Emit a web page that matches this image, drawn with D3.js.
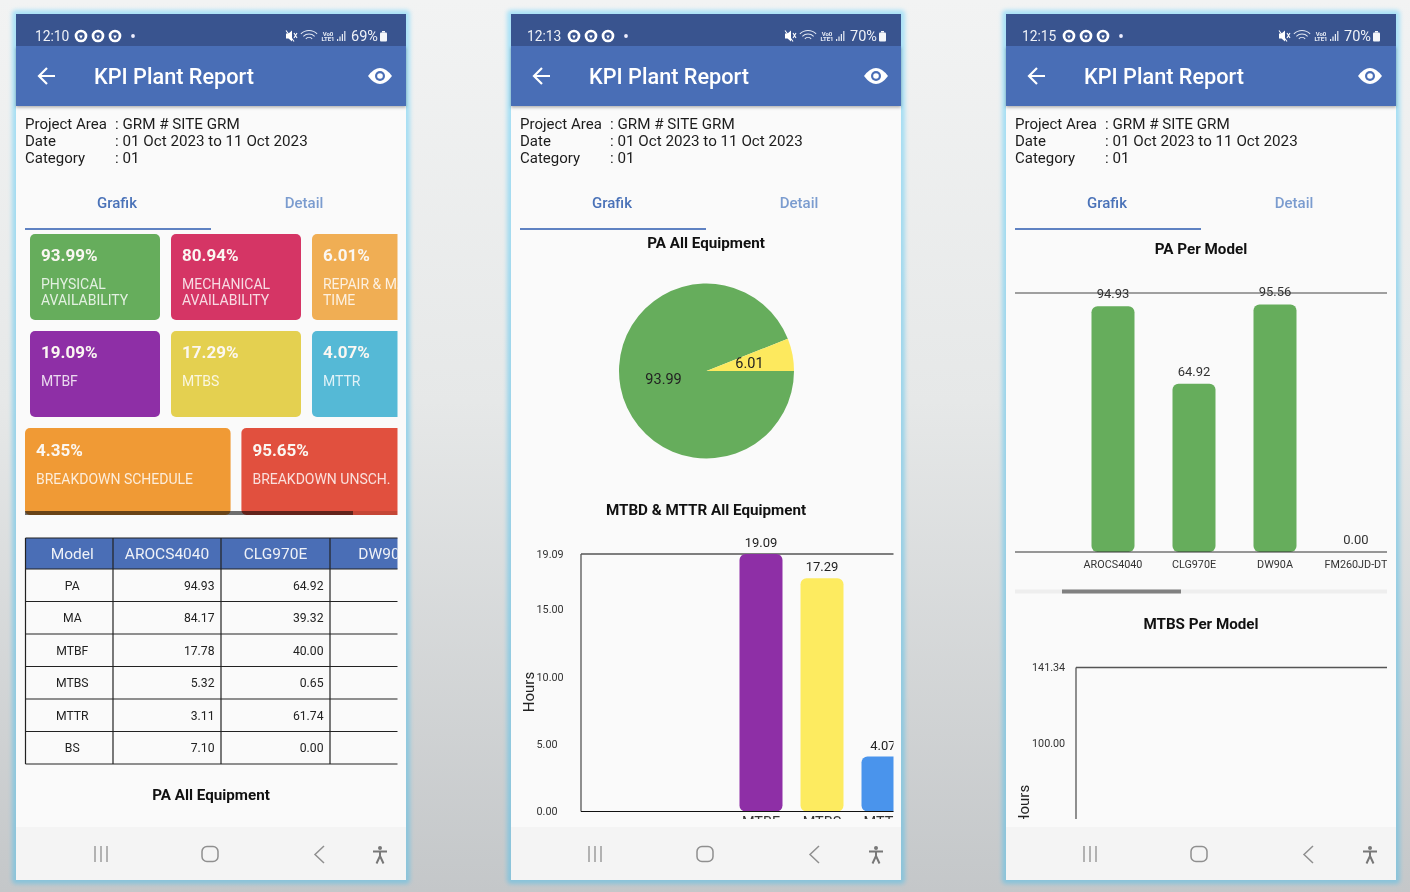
<!DOCTYPE html>
<html>
<head>
<meta charset="utf-8">
<title>KPI Plant Report</title>
<script src="https://cdn.jsdelivr.net/npm/d3@7"></script>
<style>
    html, body { margin: 0; padding: 0; background: #dcdfe0; overflow: hidden; }
    svg { display: block; font-family: Roboto, sans-serif; filter: blur(0.3px); }
</style>
</head>
<body>
<svg id="page" width="1410" height="892"></svg>
<script>
/* ------------------------------
   DATA
------------------------------ */
const statusTimes = ["12:10", "12:13", "12:15"];
const batteryLabels = ["69%", "70%", "70%"];
const infoLabels = ["Project Area", "Date", "Category"];
const infoValues = [": GRM # SITE GRM", ": 01 Oct 2023 to 11 Oct 2023", ": 01"];
const tabLabels = ["Grafik", "Detail"];

const kpiValues = ["93.99%", "80.94%", "6.01%", "19.09%", "17.29%", "4.07%"];
const kpiLabels = [["PHYSICAL", "AVAILABILITY"], ["MECHANICAL", "AVAILABILITY"], ["REPAIR & MAINTENANCE", "TIME"], ["MTBF"], ["MTBS"], ["MTTR"]];
const kpiColors = ["#66ad5c", "#d53565", "#f0ae54", "#8e2fa6", "#e4d050", "#55b9d6"];
const breakdownValues = ["4.35%", "95.65%"];
const breakdownLabels = ["BREAKDOWN SCHEDULE", "BREAKDOWN UNSCH."];
const breakdownColors = ["#f09a35", "#e1503e"];

const tableHeader = ["Model", "AROCS4040", "CLG970E", "DW90A"];
const tableRows = ["PA", "MA", "MTBF", "MTBS", "MTTR", "BS"];
const tableArocs = ["94.93", "84.17", "17.78", "5.32", "3.11", "7.10"];
const tableClg = ["64.92", "39.32", "40.00", "0.65", "61.74", "0.00"];

const pieLabels = ["PA", "Repair"];
const pieValues = [93.99, 6.01];
const pieColors = ["#66ad5c", "#fde95e"];

const hourCategories = ["MTBF", "MTBS", "MTTR"];
const hourValues = [19.09, 17.29, 4.07];
const hourColors = ["#8e2fa6", "#fdeb60", "#4a94ec"];
const hourTicks = [0, 5, 10, 15, 19.09];

const modelCategories = ["AROCS4040", "CLG970E", "DW90A", "FM260JD-DT"];
const paPerModel = [94.93, 64.92, 95.56, 0];

const mtbsTicks = [100, 141.34];

const svg = d3.select("#page");
const defs = svg.append("defs");

const phoneLefts = [16, 511, 1006];
const phoneWidth = 390;

/* ------------------------------
   BACKGROUND
------------------------------ */
const bgGrad = defs.append("linearGradient").attr("id", "bg-grad")
    .attr("x1", 0).attr("y1", 0).attr("x2", 0).attr("y2", 1);
bgGrad.append("stop").attr("offset", "0%").attr("stop-color", "#f2f3f3");
bgGrad.append("stop").attr("offset", "45%").attr("stop-color", "#e6e8e8");
bgGrad.append("stop").attr("offset", "100%").attr("stop-color", "#c4c7c9");

const glowGrad = defs.append("linearGradient").attr("id", "glow-grad")
    .attr("x1", 0).attr("y1", 0).attr("x2", 0).attr("y2", 1);
glowGrad.append("stop").attr("offset", "0%").attr("stop-color", "#aae2f7");
glowGrad.append("stop").attr("offset", "100%").attr("stop-color", "#88c3da");

const blur = defs.append("filter").attr("id", "glow-blur")
    .attr("x", "-5%").attr("y", "-5%").attr("width", "110%").attr("height", "110%");
blur.append("feGaussianBlur").attr("stdDeviation", 2);

const shadow = defs.append("filter").attr("id", "bar-shadow")
    .attr("x", "-5%").attr("y", "-20%").attr("width", "110%").attr("height", "150%");
shadow.append("feDropShadow").attr("dx", 0).attr("dy", 1.5).attr("stdDeviation", 1.5)
    .attr("flood-color", "#000").attr("flood-opacity", 0.3);

svg.append("rect").attr("width", 1410).attr("height", 892).attr("fill", "url(#bg-grad)");

function addClip(id, x, y, w, h) {
    defs.append("clipPath").attr("id", id)
        .append("rect").attr("x", x).attr("y", y).attr("width", w).attr("height", h);
    return "url(#" + id + ")";
}

function title(g, text, cx, y) {
    g.append("text").attr("x", cx).attr("y", y).attr("text-anchor", "middle")
        .attr("font-size", 15.2).attr("font-weight", 700).attr("fill", "#111").text(text);
}

/* ------------------------------
   PHONE FRAME
------------------------------ */
function drawStatusIcons(g, i) {
    const ringX = [[65, 82, 99], [63, 80, 97], [63, 80, 97]][i];
    const dotX = [117, 115, 115][i];
    const right = [275, 279, 278][i];   // mute icon

    ringX.forEach(x => {
        g.append("circle").attr("cx", x).attr("cy", 36).attr("r", 5)
            .attr("fill", "none").attr("stroke", "#fff").attr("stroke-width", 2.7);
        g.append("path").attr("d", `M${x - 1.8} 35.5h3.6l-1.8 3.2z`).attr("fill", "#fff");
    });
    g.append("circle").attr("cx", dotX).attr("cy", 36).attr("r", 1.9).attr("fill", "#eef");

    // mute
    g.append("path").attr("d", `M${right - 5} 33.5h2.5l3.5-3v11l-3.5-3h-2.5z`).attr("fill", "#fff");
    g.append("path").attr("d", `M${right - 5} 30.5l8 11M${right + 3} 33l3 5M${right + 6} 33l-3 5`)
        .attr("fill", "none").attr("stroke", "#fff").attr("stroke-width", 1.1);
    // wifi fan
    const fan = d3.arc().startAngle(-Math.PI / 4).endAngle(Math.PI / 4);
    [[11, 12], [7.5, 8.5], [4, 5]].forEach(r => {
        g.append("path").attr("transform", `translate(${right + 18},42)`)
            .attr("d", fan.innerRadius(r[0]).outerRadius(r[1])()).attr("fill", "#e3e9f4");
    });
    // volte
    g.append("text").attr("x", right + 37).attr("y", 35.5).attr("text-anchor", "middle")
        .attr("font-size", 6).attr("font-weight", 700).attr("fill", "#e8edf6").text("Vo0");
    g.append("text").attr("x", right + 37).attr("y", 41).attr("text-anchor", "middle")
        .attr("font-size", 6).attr("font-weight", 700).attr("fill", "#e8edf6").text("LTE1");
    // signal
    [2, 4.5, 7, 10].forEach((h, k) => {
        g.append("rect").attr("x", right + 46 + k * 2.4).attr("y", 41 - h)
            .attr("width", 1.2).attr("height", h).attr("fill", "#e8edf6");
    });
    g.append("text").attr("x", right + 60).attr("y", 41).attr("font-size", 14.5)
        .attr("fill", "#eef1f7").text(batteryLabels[i]);
    // battery
    g.append("rect").attr("x", right + 89).attr("y", 32.5).attr("width", 7).attr("height", 9)
        .attr("rx", 1).attr("fill", "#f4f6fa");
    g.append("rect").attr("x", right + 91).attr("y", 31).attr("width", 3).attr("height", 1.5).attr("fill", "#f4f6fa");
}

function drawNav(g, i) {
    const cx = [[85, 194, 304, 364], [84, 194, 304, 365], [84, 193, 303, 364]][i];
    g.append("rect").attr("x", 0).attr("y", 827).attr("width", phoneWidth).attr("height", 53).attr("fill", "#f4f4f4");

    [-6, 0, 6].forEach(d => {
        g.append("line").attr("x1", cx[0] + d).attr("x2", cx[0] + d).attr("y1", 846).attr("y2", 862)
            .attr("stroke", "#8f8f8f").attr("stroke-width", 1.3);
    });
    g.append("rect").attr("x", cx[1] - 8).attr("y", 846.5).attr("width", 16).attr("height", 15).attr("rx", 5)
        .attr("fill", "none").attr("stroke", "#8f8f8f").attr("stroke-width", 1.5);
    g.append("path").attr("d", `M${cx[2] + 4} 846l-9 8.5l9 8.5`)
        .attr("fill", "none").attr("stroke", "#8f8f8f").attr("stroke-width", 1.5);
    g.append("circle").attr("cx", cx[3]).attr("cy", 848).attr("r", 2).attr("fill", "#777");
    g.append("path").attr("d", `M${cx[3] - 7} 851.5h14M${cx[3]} 851.5v4.5M${cx[3]} 856l-3.5 7.5M${cx[3]} 856l3.5 7.5`)
        .attr("fill", "none").attr("stroke", "#777").attr("stroke-width", 2);
}

function drawPhone(i) {
    const g = svg.append("g").attr("transform", `translate(${phoneLefts[i]},0)`);

    g.append("rect").attr("x", -4).attr("y", 10)
        .attr("width", phoneWidth + 8).attr("height", 874).attr("rx", 4)
        .attr("fill", "url(#glow-grad)").attr("filter", "url(#glow-blur)");
    g.append("rect").attr("x", 0).attr("y", 14).attr("width", phoneWidth).attr("height", 866).attr("fill", "#fafafa");

    // app bar
    g.append("rect").attr("x", 0).attr("y", 46).attr("width", phoneWidth).attr("height", 60)
        .attr("fill", "#4a6eb6").attr("filter", "url(#bar-shadow)");
    g.append("rect").attr("x", 0).attr("y", 14).attr("width", phoneWidth).attr("height", 32).attr("fill", "#39548f");

    g.append("text").attr("x", [19, 16, 16][i]).attr("y", 41).attr("font-size", 13.8)
        .attr("fill", "#eef1f7").text(statusTimes[i]);
    drawStatusIcons(g, i);

    // back arrow
    g.append("path").attr("d", "M23 76h16M31 68l-8 8l8 8")
        .attr("fill", "none").attr("stroke", "#fff").attr("stroke-width", 2.2);
    g.append("text").attr("x", 78).attr("y", 84).attr("font-size", 21.7).attr("font-weight", 500)
        .attr("fill", "#fff").text("KPI Plant Report");
    // eye
    const eyeX = [364, 365, 364][i];
    g.append("path")
        .attr("d", `M${eyeX - 12} 76Q${eyeX} 60 ${eyeX + 12} 76Q${eyeX} 92 ${eyeX - 12} 76Z`)
        .attr("fill", "#fff");
    g.append("circle").attr("cx", eyeX).attr("cy", 76).attr("r", 5).attr("fill", "#4a6eb6");
    g.append("circle").attr("cx", eyeX).attr("cy", 76).attr("r", 2.8).attr("fill", "#fff");

    // report info
    infoLabels.forEach((label, k) => {
        g.append("text").attr("x", 9).attr("y", 129 + k * 17).attr("font-size", 15).attr("fill", "#1c1c1c").text(label);
        g.append("text").attr("x", 99).attr("y", 129 + k * 17).attr("font-size", 15.2).attr("fill", "#1c1c1c").text(infoValues[k]);
    });

    // tabs
    tabLabels.forEach((label, k) => {
        g.append("text").attr("x", k === 0 ? 101 : 288).attr("y", 207.5).attr("text-anchor", "middle")
            .attr("font-size", 15).attr("font-weight", 500)
            .attr("fill", k === 0 ? "#4a72b8" : "#7b9ccf").text(label);
    });
    g.append("rect").attr("x", 9).attr("y", 228).attr("width", 186).attr("height", 2).attr("fill", "#5f82c2");

    return g;
}

const phones = [0, 1, 2].map(drawPhone);

/* ------------------------------
   PHONE 1 - KPI CARDS + TABLE
------------------------------ */
function drawCards() {
    const g = phones[0].append("g").attr("clip-path", addClip("clip-cards", 0, 230, 381.5, 290));
    const col = d3.scaleBand().domain([0, 1, 2]).range([14, 426]).paddingInner(0.078);
    const row = d3.scaleBand().domain([0, 1]).range([234, 417]).paddingInner(0.1136);

    kpiValues.forEach((value, i) => {
        const x = col(i % 3), y = row(Math.floor(i / 3));
        g.append("rect").attr("x", x).attr("y", y).attr("width", col.bandwidth()).attr("height", row.bandwidth())
            .attr("rx", 5).attr("fill", kpiColors[i]);
        g.append("text").attr("x", x + 11).attr("y", y + 27).attr("font-size", 17).attr("font-weight", 700)
            .attr("fill", "#fbf7f2").text(value);
        kpiLabels[i].forEach((line, k) => {
            g.append("text").attr("x", x + 11).attr("y", y + 55 + k * 16).attr("font-size", 14)
                .attr("fill", "rgba(255,255,255,0.82)").text(line);
        });
    });

    const wide = d3.scaleBand().domain([0, 1]).range([9, 431]).paddingInner(0.05);
    breakdownValues.forEach((value, i) => {
        const x = wide(i);
        g.append("rect").attr("x", x).attr("y", 428).attr("width", wide.bandwidth()).attr("height", 87)
            .attr("rx", 5).attr("fill", breakdownColors[i]);
        g.append("text").attr("x", x + 11).attr("y", 456).attr("font-size", 17).attr("font-weight", 700)
            .attr("fill", "#fbf7f2").text(value);
        g.append("text").attr("x", x + 11).attr("y", 484).attr("font-size", 14)
            .attr("fill", "rgba(255,255,255,0.82)").text(breakdownLabels[i]);
    });

    // horizontal scroll bar on top of the cards
    g.append("rect").attr("x", 9).attr("y", 511).attr("width", 372.5).attr("height", 4).attr("fill", "#000").attr("opacity", 0.12);
    g.append("rect").attr("x", 9).attr("y", 511).attr("width", 328).attr("height", 4).attr("fill", "#000").attr("opacity", 0.5);
}

function drawTable() {
    const g = phones[0].append("g").attr("clip-path", addClip("clip-table", 8, 530, 373.5, 240));
    const colX = [9.5, 97, 205, 314, 422];
    const y = d3.scaleLinear().domain([0, tableRows.length]).range([569, 764]);
    const firstCol = (colX[0] + colX[1]) / 2 + 3;

    g.append("rect").attr("x", colX[0]).attr("y", 538).attr("width", 400).attr("height", 31).attr("fill", "#4a6eb6");

    tableHeader.forEach((label, i) => {
        g.append("text").attr("x", i === 0 ? firstCol : (colX[i] + colX[i + 1]) / 2).attr("y", 559).attr("text-anchor", "middle")
            .attr("font-size", 15.5).attr("fill", "#eef1f7").text(label);
    });

    tableRows.forEach((label, r) => {
        const ty = y(r + 0.5) + 4.5;
        g.append("text").attr("x", firstCol).attr("y", ty).attr("text-anchor", "middle")
            .attr("font-size", 12.2).attr("fill", "#222").text(label);
        g.append("text").attr("x", colX[2] - 6.5).attr("y", ty).attr("text-anchor", "end")
            .attr("font-size", 12.2).attr("fill", "#222").text(tableArocs[r]);
        g.append("text").attr("x", colX[3] - 6.5).attr("y", ty).attr("text-anchor", "end")
            .attr("font-size", 12.2).attr("fill", "#222").text(tableClg[r]);
    });

    d3.range(tableRows.length + 1).forEach(r => {
        g.append("line").attr("x1", colX[0]).attr("x2", 420).attr("y1", y(r)).attr("y2", y(r))
            .attr("stroke", "#222").attr("stroke-width", 1.2);
    });
    g.append("line").attr("x1", colX[0]).attr("x2", 420).attr("y1", 538).attr("y2", 538)
        .attr("stroke", "#222").attr("stroke-width", 1.2);
    colX.slice(0, 4).forEach(x => {
        g.append("line").attr("x1", x).attr("x2", x).attr("y1", 538).attr("y2", 764)
            .attr("stroke", "#222").attr("stroke-width", 1.2);
    });

    title(phones[0], "PA All Equipment", 195, 800);
}

/* ------------------------------
   PHONE 2 - PIE + HOURS BARS
------------------------------ */
function drawPie() {
    const g = phones[1];
    title(g, "PA All Equipment", 195, 248);

    const pieG = g.append("g").attr("transform", "translate(195.5,371)");
    const pie = d3.pie().sort(null).startAngle(Math.PI / 2).endAngle(Math.PI * 2.5);
    const arc = d3.arc().innerRadius(0).outerRadius(87.5);

    const slices = pie(pieValues);
    pieG.selectAll("path").data(slices).enter().append("path")
        .attr("d", arc).attr("fill", (d, i) => pieColors[i]);
    pieG.selectAll("text").data(slices).enter().append("text")
        .attr("x", d => arc.centroid(d)[0]).attr("y", d => arc.centroid(d)[1] + 5)
        .attr("text-anchor", "middle").attr("font-size", 14.5).attr("fill", "#222")
        .text(d => d.value.toFixed(2));
}

function drawHours() {
    const root = phones[1];
    title(root, "MTBD & MTTR All Equipment", 195, 515);

    const g = root.append("g").attr("clip-path", addClip("clip-hours", 0, 520, 382.5, 299));
    const y = d3.scaleLinear().domain([0, 19.09]).range([811.5, 554]);
    const x = d3.scaleBand().domain(hourCategories).range([210.5, 411.5]).padding(0.295);

    g.append("g").attr("transform", "translate(70,0)")
        .call(d3.axisLeft(y).tickValues(hourTicks).tickSize(0).tickPadding(0).tickFormat(d3.format(".2f")))
        .call(a => a.select(".domain").remove())
        .selectAll("text")
        .attr("x", -44.5).attr("text-anchor", "start").attr("font-size", 10.8).attr("font-family", "Roboto").attr("fill", "#333");

    g.append("text").attr("transform", "translate(23,692) rotate(-90)").attr("text-anchor", "middle")
        .attr("font-size", 15).attr("fill", "#222").text("Hours");

    g.append("line").attr("x1", 70).attr("x2", 400).attr("y1", y(19.09)).attr("y2", y(19.09)).attr("stroke", "#555").attr("stroke-width", 1.3);
    g.append("line").attr("x1", 70).attr("x2", 70).attr("y1", y(19.09)).attr("y2", y(0)).attr("stroke", "#555").attr("stroke-width", 1.3);

    g.selectAll(".bar").data(hourValues).enter().append("rect").attr("class", "bar")
        .attr("x", (d, i) => x(hourCategories[i])).attr("width", x.bandwidth())
        .attr("y", d => y(d)).attr("height", d => y(0) - y(d))
        .attr("rx", 6).attr("fill", (d, i) => hourColors[i]);

    g.selectAll(".val").data(hourValues).enter().append("text").attr("class", "val")
        .attr("x", (d, i) => x(hourCategories[i]) + x.bandwidth() / 2).attr("y", d => y(d) - 7)
        .attr("text-anchor", "middle").attr("font-size", 13).attr("fill", "#222").text(d => d.toFixed(2));

    g.append("line").attr("x1", 70).attr("x2", 400).attr("y1", y(0)).attr("y2", y(0)).attr("stroke", "#111").attr("stroke-width", 1.2);

    // labels are cut off by the bottom of the scroll view
    g.selectAll(".cat").data(hourCategories).enter().append("text").attr("class", "cat")
        .attr("x", d => x(d) + x.bandwidth() / 2).attr("y", 827)
        .attr("text-anchor", "middle").attr("font-size", 14.5).attr("fill", "#333").text(d => d);
}

/* ------------------------------
   PHONE 3 - PER MODEL CHARTS
------------------------------ */
function drawPerModel() {
    const root = phones[2];
    title(root, "PA Per Model", 195, 253.8);

    const g = root.append("g").attr("clip-path", addClip("clip-pa", 9, 270, 372, 310));
    const y = d3.scaleLinear().domain([0, 100]).range([552, 293]);
    const x = d3.scaleBand().domain(modelCategories).range([47.5, 409.5]).padding(0.469);

    g.selectAll(".bar").data(paPerModel).enter().append("rect").attr("class", "bar")
        .attr("x", (d, i) => x(modelCategories[i])).attr("width", x.bandwidth())
        .attr("y", d => y(d)).attr("height", d => y(0) - y(d))
        .attr("rx", 6).attr("fill", "#66ad5c");

    g.append("line").attr("x1", 9).attr("x2", 381).attr("y1", y(100)).attr("y2", y(100)).attr("stroke", "#444").attr("stroke-width", 1.2);
    g.append("line").attr("x1", 9).attr("x2", 381).attr("y1", y(0)).attr("y2", y(0)).attr("stroke", "#333").attr("stroke-width", 1.2);

    g.selectAll(".val").data(paPerModel).enter().append("text").attr("class", "val")
        .attr("x", (d, i) => x(modelCategories[i]) + x.bandwidth() / 2).attr("y", d => y(d) - 8)
        .attr("text-anchor", "middle").attr("font-size", 13).attr("fill", "#333").text(d => d.toFixed(2));

    g.selectAll(".cat").data(modelCategories).enter().append("text").attr("class", "cat")
        .attr("x", d => x(d) + x.bandwidth() / 2).attr("y", 568)
        .attr("text-anchor", "middle").attr("font-size", 10.8).attr("fill", "#333").text(d => d);

    // scroll bar of the chart above
    root.append("rect").attr("x", 9).attr("y", 589.5).attr("width", 372).attr("height", 4).attr("fill", "#eeeeee");
    root.append("rect").attr("x", 56).attr("y", 589.5).attr("width", 119).attr("height", 4).attr("fill", "#808080");

    title(root, "MTBS Per Model", 195, 629);

    const g2 = root.append("g").attr("clip-path", addClip("clip-mtbs", 0, 640, 382, 179));
    const y2 = d3.scaleLinear().domain([0, 141.34]).range([925.5, 667.5]);

    g2.append("g").attr("transform", "translate(70,0)")
        .call(d3.axisLeft(y2).tickValues(mtbsTicks).tickSize(0).tickPadding(0).tickFormat(d3.format(".2f")))
        .call(a => a.select(".domain").remove())
        .selectAll("text")
        .attr("x", -44).attr("text-anchor", "start").attr("font-size", 10.8).attr("font-family", "Roboto").attr("fill", "#333");

    g2.append("line").attr("x1", 70).attr("x2", 381).attr("y1", y2(141.34)).attr("y2", y2(141.34)).attr("stroke", "#555").attr("stroke-width", 1.3);
    g2.append("line").attr("x1", 70).attr("x2", 70).attr("y1", y2(141.34)).attr("y2", y2(0)).attr("stroke", "#555").attr("stroke-width", 1.3);
    g2.append("text").attr("transform", "translate(23,805) rotate(-90)").attr("text-anchor", "middle")
        .attr("font-size", 15).attr("fill", "#222").text("Hours");
}

drawCards();
drawTable();
drawPie();
drawHours();
drawPerModel();
phones.forEach(drawNav);
</script>
</body>
</html>
